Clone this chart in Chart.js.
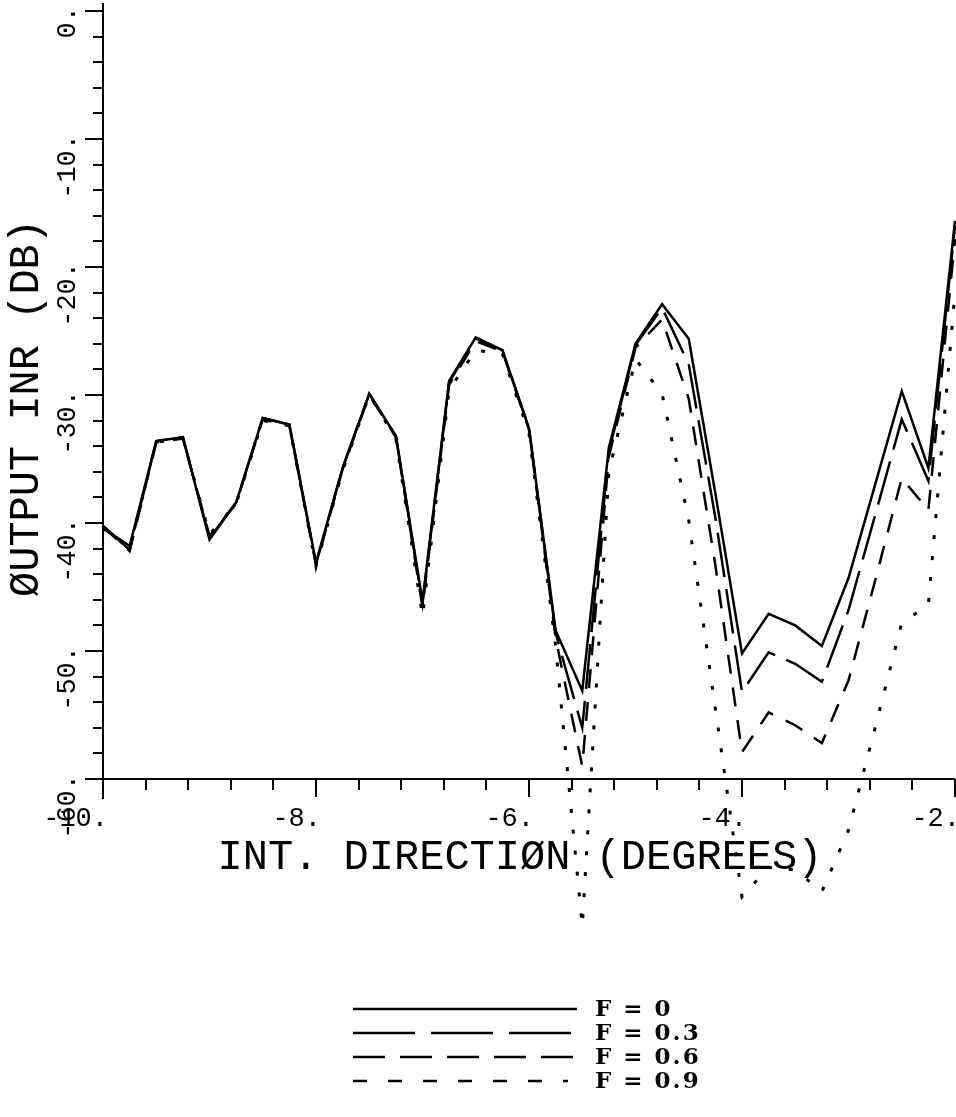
<!DOCTYPE html>
<html>
<head>
<meta charset="utf-8">
<script src="https://cdn.jsdelivr.net/npm/chart.js@4.4.1/dist/chart.umd.min.js"></script>
<style>
  html, body { margin: 0; padding: 0; background: #fff; }
  #wrap { width: 956px; height: 1117px; position: relative; }
</style>
</head>
<body>
<div id="wrap"><canvas id="inrChart"></canvas></div>
<script>
// interference direction (degrees)
const angleDeg = [-10, -9.75, -9.5, -9.25, -9, -8.75, -8.5, -8.25, -8, -7.75, -7.5, -7.25,
  -7, -6.75, -6.5, -6.25, -6, -5.75, -5.5, -5.25, -5, -4.75, -4.5, -4.25,
  -4, -3.75, -3.5, -3.25, -3, -2.75, -2.5, -2.25, -2];

// output INR (dB) for each F
const inrF0 = [-40.4, -41.8, -33.6, -33.3, -41.3, -38.4, -31.8, -32.3, -43.1, -35.7, -29.9, -33.2,
  -46.1, -28.9, -25.5, -26.5, -32.6, -48.4, -53.1, -34.1, -26.0, -22.9, -25.6, -37.7,
  -50.2, -47.1, -48.0, -49.6, -44.3, -37.0, -29.7, -35.7, -16.4];
const inrF03 = [-40.2, -42.1, -33.6, -33.3, -41.2, -38.4, -31.8, -32.3, -43.2, -35.7, -29.9, -33.2,
  -46.3, -29.0, -25.6, -26.5, -32.6, -48.6, -56.0, -34.4, -26.1, -23.2, -27.6, -39.6,
  -53.2, -50.1, -51.0, -52.4, -46.8, -39.4, -31.9, -36.7, -16.8];
const inrF06 = [-40.3, -42.2, -33.7, -33.4, -41.0, -38.5, -31.9, -32.4, -43.3, -35.8, -30.0, -33.3,
  -46.6, -29.2, -25.8, -26.6, -32.7, -49.0, -59.0, -34.8, -26.3, -24.1, -30.3, -43.3,
  -57.9, -54.8, -55.8, -57.2, -52.3, -44.5, -36.5, -39.0, -17.8];
const inrF09 = [-40.4, -42.0, -33.7, -33.4, -40.9, -38.5, -32.0, -32.4, -43.4, -35.9, -30.0, -33.4,
  -47.3, -29.6, -26.5, -26.8, -33.0, -49.6, -71.5, -36.0, -27.2, -29.9, -39.8, -54.5,
  -69.2, -66.9, -67.1, -68.8, -64.0, -56.0, -47.8, -46.4, -21.9];

const seriesLabels = ['F = 0', 'F = 0.3', 'F = 0.6', 'F = 0.9'];
const xTickValues = [-10, -8, -6, -4, -2];
const xTickLabels = ['-10.', '-8.', '-6.', '-4.', '-2.'];
const yTickValues = [0, -10, -20, -30, -40, -50, -60];
const yTickLabels = ['0.', '-10.', '-20.', '-30.', '-40.', '-50.', '-60.'];

const toPoints = ys => ys.map((y, i) => ({ x: angleDeg[i], y: y }));

const plotDash = [[], [45, 12], [19, 14], [4, 17]];
const legendDash = [[], [62, 16], [32, 15], [14, 21]];
const axisFont = '"Liberation Mono", "DejaVu Sans Mono", monospace';

// hand-drawn plotter axes, ticks and labels placed from the chart scales
const plotterAxes = {
  id: 'plotterAxes',
  beforeDatasetsDraw(chart) {
    const { ctx, chartArea, scales } = chart;
    const xs = scales.x, ys = scales.y;
    const left = chartArea.left, bottom = chartArea.bottom;
    ctx.save();
    ctx.strokeStyle = '#000';
    ctx.fillStyle = '#000';
    ctx.lineWidth = 2;
    ctx.lineCap = 'butt';

    // axis lines
    ctx.beginPath();
    ctx.moveTo(left, ys.getPixelForValue(0) - 8);
    ctx.lineTo(left, bottom + 20);
    ctx.moveTo(left - 18, bottom);
    ctx.lineTo(xs.getPixelForValue(-2), bottom);
    ctx.stroke();

    // x ticks every 0.4 deg, long ones at labels
    ctx.beginPath();
    for (let i = 1; i <= 20; i++) {
      const v = -10 + i * 0.4;
      const px = Math.round(xs.getPixelForValue(v));
      const major = i % 5 === 0;
      ctx.moveTo(px, bottom);
      ctx.lineTo(px, bottom + (major ? 18 : 11));
    }
    // y ticks every 2 dB, long ones every 10
    for (let i = 0; i <= 30; i++) {
      const v = -i * 2;
      const py = Math.round(ys.getPixelForValue(v));
      const major = i % 5 === 0;
      ctx.moveTo(left, py);
      ctx.lineTo(left - (major ? 18 : 10), py);
    }
    ctx.stroke();

    // tick labels
    ctx.font = '27px ' + axisFont;
    ctx.textAlign = 'right';
    ctx.textBaseline = 'middle';
    xTickValues.forEach((v, i) => {
      ctx.fillText(xTickLabels[i], xs.getPixelForValue(v) + 5, bottom + 40);
    });
    yTickValues.forEach((v, i) => {
      ctx.save();
      ctx.translate(68, ys.getPixelForValue(v) - 5);
      ctx.rotate(-Math.PI / 2);
      ctx.fillText(yTickLabels[i], 0, 0);
      ctx.restore();
    });

    // axis titles
    ctx.font = '42px ' + axisFont;
    ctx.textAlign = 'center';
    ctx.fillText('INT. DIRECTIØN (DEGREES)', 520, 858);
    ctx.save();
    ctx.translate(27, 408);
    ctx.rotate(-Math.PI / 2);
    ctx.fillText('ØUTPUT INR (DB)', 0, 0);
    ctx.restore();
    ctx.restore();
  },
  afterDraw(chart) {
    const { ctx } = chart;
    ctx.save();
    ctx.strokeStyle = '#000';
    ctx.fillStyle = '#000';
    ctx.lineWidth = 2.5;
    ctx.font = 'bold 23px "DejaVu Serif", "Liberation Serif", serif';
    ctx.letterSpacing = '2px';
    ctx.textAlign = 'left';
    ctx.textBaseline = 'middle';
    chart.data.datasets.forEach((ds, i) => {
      const y = 1009 + i * 24;
      ctx.setLineDash(legendDash[i]);
      ctx.beginPath();
      ctx.moveTo(353, y);
      ctx.lineTo(i === 3 ? 568 : 577, y);
      ctx.stroke();
      ctx.setLineDash([]);
      ctx.fillText(ds.label, 595, y + 1);
    });
    ctx.restore();
  }
};

const seriesValues = [inrF0, inrF03, inrF06, inrF09];

new Chart(document.getElementById('inrChart').getContext('2d'), {
  type: 'line',
  data: {
    datasets: seriesValues.map((vals, i) => ({
      label: seriesLabels[i],
      data: toPoints(vals),
      borderColor: '#000',
      borderWidth: i === 3 ? 3 : 2.5,
      borderDash: plotDash[i],
      borderCapStyle: 'butt',
      borderJoinStyle: 'miter',
      pointRadius: 0,
      tension: 0,
      fill: false,
      clip: false
    }))
  },
  options: {
    responsive: true,
    maintainAspectRatio: false,
    animation: false,
    layout: { padding: { left: 103, right: 1, top: 11, bottom: 338 } },
    scales: {
      x: { type: 'linear', min: -10, max: -2, display: false },
      y: { type: 'linear', min: -60, max: 0, display: false }
    },
    plugins: {
      legend: { display: false },
      tooltip: { enabled: false }
    }
  },
  plugins: [plotterAxes]
});
</script>
</body>
</html>
